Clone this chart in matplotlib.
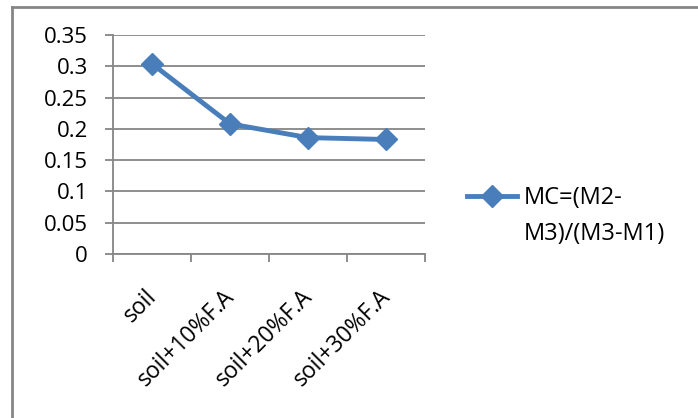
import matplotlib.pyplot as plt
import matplotlib.transforms as mtransforms
from matplotlib.lines import Line2D

categories = ["soil", "soil+10%F.A", "soil+20%F.A", "soil+30%F.A"]
mc_values = [0.304, 0.208, 0.186, 0.183]
label_line1 = "MC=(M2-"
label_line2 = "M3)/(M3-M1)"
y_ticks = [0, 0.05, 0.1, 0.15, 0.2, 0.25, 0.3, 0.35]
y_labels = ["0", "0.05", "0.1", "0.15", "0.2", "0.25", "0.3", "0.35"]

plt.rcParams["font.family"] = ["Open Sans", "DejaVu Sans"]

blue = "#4a7ebb"
grey = "#868686"
fs = 16

fig = plt.figure(figsize=(6.98, 4.18), dpi=100)
ax = fig.add_axes([113 / 698, 1 - 254 / 418, 312 / 698, 219 / 418])

xs = list(range(len(categories)))
ax.plot(xs, mc_values, color=blue, lw=3.5, marker="D", ms=11,
        label=label_line1, solid_joinstyle="round")

ax.set_xlim(-0.5, len(categories) - 0.5)
ax.set_ylim(0, 0.35)
ax.set_yticks(y_ticks)
ax.set_yticklabels(y_labels, fontsize=fs)
ax.yaxis.grid(True, color=grey, lw=1.3)
ax.set_axisbelow(True)
ax.tick_params(axis="y", length=6, width=1.3, color=grey, pad=12)

# category boundary ticks
ax.set_xticks([x - 0.5 for x in range(len(categories) + 1)])
ax.set_xticklabels([])
ax.tick_params(axis="x", length=6, width=1.3, color=grey, direction="out")
ax.set_xticks(xs, minor=True)
ax.set_xticklabels(categories, minor=True, rotation=45, ha="right",
                   rotation_mode="anchor", fontsize=fs + 0.5)
ax.tick_params(axis="x", which="minor", length=0, pad=22)
shift = mtransforms.ScaledTranslation(-7 / 100, 0, fig.dpi_scale_trans)
for lbl in ax.get_xticklabels(minor=True):
    lbl.set_transform(lbl.get_transform() + shift)

for side in ["top", "right"]:
    ax.spines[side].set_visible(False)
for side in ["left", "bottom"]:
    ax.spines[side].set_color(grey)
    ax.spines[side].set_linewidth(1.3)

leg = ax.legend(loc="center left", bbox_to_anchor=(467 / 698, 1 - 198 / 418),
                bbox_transform=fig.transFigure, frameon=False, fontsize=fs + 1,
                handlelength=2.1, handletextpad=0.3, borderpad=0,
                borderaxespad=0)
ax.annotate(label_line2, xy=(0, 0), xycoords=leg.get_texts()[0],
            xytext=(0, -12), textcoords="offset pixels", va="top",
            fontsize=fs + 1, zorder=10, annotation_clip=False)

# outer chart border (top and left visible)
fig.add_artist(Line2D([12 / 698, 1], [1 - 7 / 418, 1 - 7 / 418],
                      transform=fig.transFigure, color=grey, lw=2))
fig.add_artist(Line2D([12 / 698, 12 / 698], [0, 1 - 7 / 418],
                      transform=fig.transFigure, color=grey, lw=2))

fig.savefig("out.png", dpi=100)
